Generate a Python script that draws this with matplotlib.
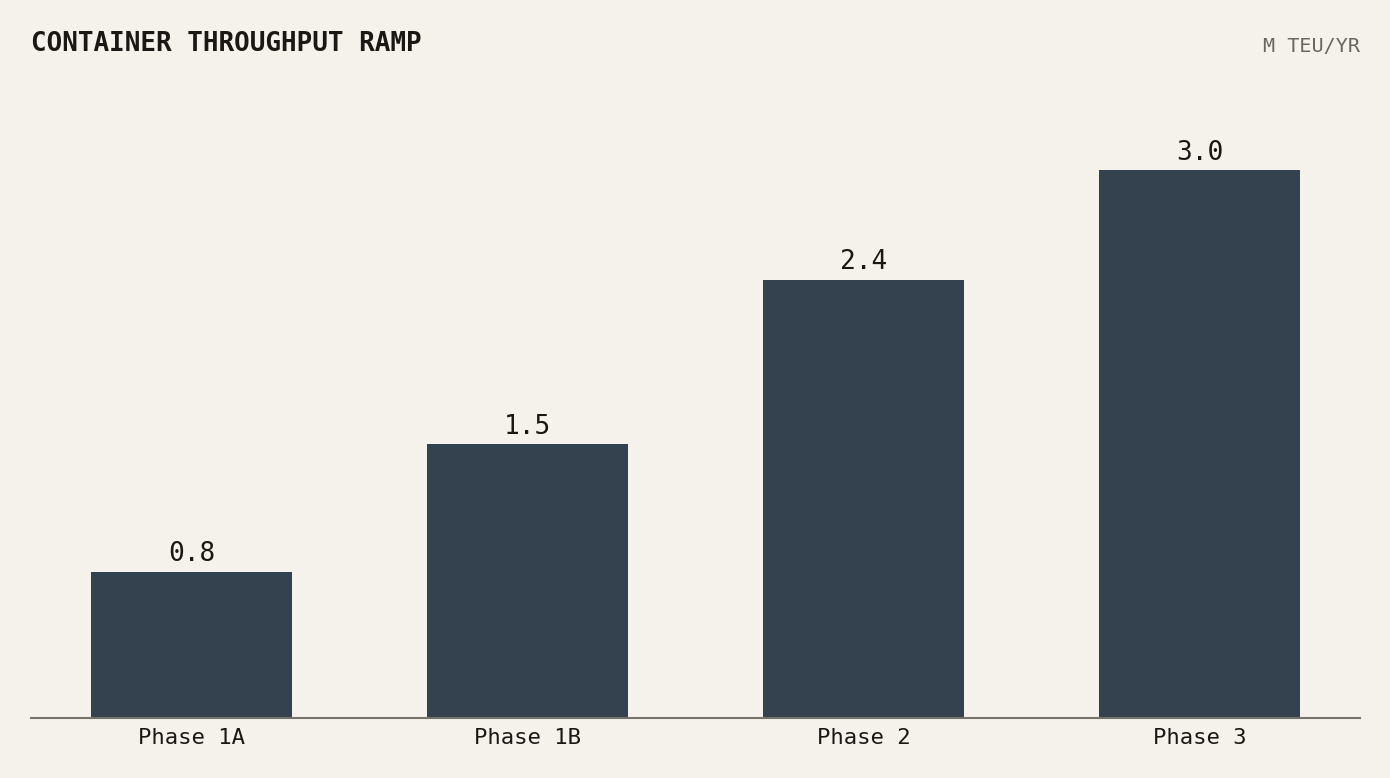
import matplotlib
matplotlib.use('Agg')
import matplotlib.pyplot as plt

bg_color = '#f5f2ec'
bar_color = '#34424f'
ink_color = '#1a1714'
muted_color = '#6b6660'
axis_color = '#77736a'

phases = ['Phase 1A', 'Phase 1B', 'Phase 2', 'Phase 3']
throughput = [0.8, 1.5, 2.4, 3.0]

plt.rcParams['font.family'] = ['DejaVu Sans Mono']

fig = plt.figure(figsize=(13.9, 7.78), dpi=100, facecolor=bg_color)
ax = fig.add_axes([31 / 1390, 60 / 778, 1329 / 1390, 630 / 778])
ax.set_facecolor(bg_color)

x = range(len(phases))
bars = ax.bar(x, throughput, width=0.6, color=bar_color, zorder=2)

for b, v in zip(bars, throughput):
	ax.annotate(f'{v:.1f}', (b.get_x() + b.get_width() / 2, v),
		xytext=(0, 3.2), textcoords='offset points',
		ha='center', va='bottom', fontsize=18.8, color=ink_color)

ax.set_xlim(-0.478, 3.478)
ax.set_ylim(0, 3.45)
ax.set_xticks(list(x))
ax.set_xticklabels(phases, fontsize=16, color=ink_color)
ax.tick_params(axis='x', length=0, pad=7.5)
ax.set_yticks([])
for side in ('top', 'right', 'left'):
	ax.spines[side].set_visible(False)
ax.spines['bottom'].set_color(axis_color)
ax.spines['bottom'].set_linewidth(1.5)
ax.spines['bottom'].set_zorder(3)

fig.text(31 / 1390, 1 - 44 / 778, 'CONTAINER THROUGHPUT RAMP', fontsize=18.7,
	fontweight='bold', color=ink_color, ha='left', va='center')
fig.text(1360 / 1390, 1 - 46 / 778, 'M TEU/YR', fontsize=14.5,
	color=muted_color, ha='right', va='center')

fig.savefig('out.png', dpi=100, facecolor=bg_color)
